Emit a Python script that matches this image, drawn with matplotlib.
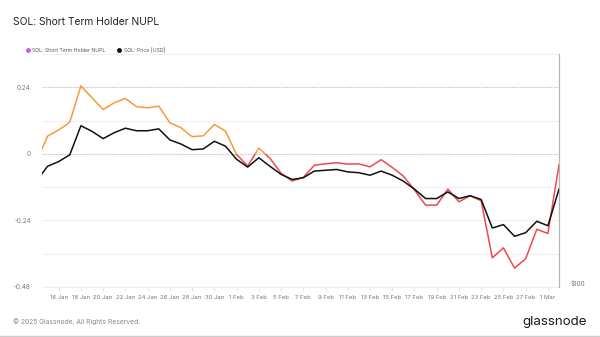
import numpy as np
import pandas as pd
import matplotlib
matplotlib.use("Agg")
import matplotlib.pyplot as plt
import matplotlib.dates as mdates
from matplotlib.patches import Rectangle
from matplotlib.ticker import FixedLocator, NullLocator

plt.rcParams['font.family'] = ['Inter', 'DejaVu Sans']

# daily values, 14 Jan - 2 Mar 2025
dates = pd.date_range("2025-01-14", "2025-03-02", freq="D")

sth_nupl = [
    -0.028, 0.064, 0.086, 0.114, 0.245, 0.202, 0.160, 0.184, 0.200, 0.170,
    0.166, 0.172, 0.112, 0.094, 0.062, 0.065, 0.106, 0.082, -0.002, -0.044,
    0.021, -0.016, -0.070, -0.098, -0.085, -0.041, -0.036, -0.032, -0.037, -0.036,
    -0.047, -0.021, -0.049, -0.080, -0.130, -0.185, -0.185, -0.127, -0.173, -0.151,
    -0.169, -0.375, -0.339, -0.412, -0.378, -0.272, -0.287, -0.039,
]

price = [
    190, 208, 214, 223, 266, 257, 246, 255, 262, 258,
    258, 261, 244, 238, 230, 231, 242, 235, 217, 207,
    219, 208, 198, 192, 194, 202, 203, 204, 201, 200,
    197, 202, 197, 190, 181, 171, 171, 178, 171, 174,
    170, 143, 146, 136, 139, 149, 145, 181,
]

nupl_ticks = [-0.48, -0.24, 0, 0.24]
nupl_ticklabels = ["-0.48", "-0.24", "0", "0.24"]

ORANGE = "#f8993a"
RED = "#ef4a4a"
GREY = "#777777"

fig = plt.figure(figsize=(6, 3.37), dpi=100)
fig.patch.set_facecolor("white")

ax = fig.add_axes([0.07, 0.1484, 0.8617, 0.6914])
x = mdates.date2num(dates)
x0 = mdates.date2num(pd.Timestamp("2025-01-14 12:00"))
x1 = mdates.date2num(pd.Timestamp("2025-03-02"))
ax.set_xlim(x0, x1)
ax.set_ylim(-0.48, 0.36)

# light grid every 0.12, dotted reference lines at 0.24 and 0
for g in np.arange(-0.48, 0.361, 0.12):
    ax.axhline(g, color="#f0f0f0", lw=0.8, zorder=0)
for g in [0.24, 0]:
    ax.axhline(g, color="#c4c4c4", lw=0.8, ls=(0, (1, 1.5)), zorder=1)

# NUPL line, orange above zero and red below
top = ax.plot(x, sth_nupl, color=ORANGE, lw=1.1, zorder=3)[0]
bot = ax.plot(x, sth_nupl, color=RED, lw=1.1, zorder=3)[0]
top.set_clip_path(Rectangle((x0, 0), x1 - x0, 1, transform=ax.transData))
bot.set_clip_path(Rectangle((x0, -1), x1 - x0, 1, transform=ax.transData))

ax.yaxis.set_major_locator(FixedLocator(nupl_ticks))
ax.set_yticklabels(nupl_ticklabels)
ax.tick_params(axis="y", length=0, labelsize=4.6, labelcolor=GREY, pad=8)

ticks = pd.date_range("2025-01-16", "2025-03-01", freq="2D")
ax.xaxis.set_major_locator(FixedLocator(mdates.date2num(ticks)))
ax.set_xticklabels([f"{d.day} {d:%b}" for d in ticks])
ax.tick_params(axis="x", length=3, color="#e6e6e6", labelsize=4.3, labelcolor=GREY, pad=3)

for s in ["left", "top", "right"]:
    ax.spines[s].set_visible(False)
ax.spines["bottom"].set_color("#eeeeee")
ax.spines["bottom"].set_linewidth(0.8)

# price on a log right axis
ax2 = ax.twinx()
ax2.set_yscale("log")
ax2.set_ylim(100, 411)
ax2.plot(x, price, color="#111111", lw=1.1, zorder=4)
ax2.yaxis.set_major_locator(FixedLocator([100]))
ax2.yaxis.set_minor_locator(NullLocator())
ax2.set_yticklabels(["$100"], va="bottom")
ax2.tick_params(axis="y", length=0, labelsize=4.6, labelcolor=GREY, pad=8)
for s in ["left", "top", "bottom"]:
    ax2.spines[s].set_visible(False)
ax2.spines["right"].set_color("#b5b5b5")
ax2.spines["right"].set_linewidth(0.9)

# title and legend
fig.text(0.021, 0.935, "SOL: Short Term Holder NUPL", fontsize=7.4, color="#222222",
         ha="left", va="center")
fig.add_artist(plt.Line2D([0.047], [0.851], marker="o", ms=2.5, color="#c45ef2",
                          transform=fig.transFigure))
fig.text(0.054, 0.851, "SOL: Short Term Holder NUPL", fontsize=3.7, color="#555555",
         ha="left", va="center")
fig.add_artist(plt.Line2D([0.199], [0.851], marker="o", ms=2.5, color="#111111",
                          transform=fig.transFigure))
fig.text(0.206, 0.851, "SOL: Price [USD]", fontsize=3.7, color="#555555",
         ha="left", va="center")

# footer
fig.text(0.021, 0.045, "© 2025 Glassnode. All Rights Reserved.", fontsize=4.8,
         color="#888888", ha="left", va="center")
fig.text(0.978, 0.045, "glassnode", fontsize=9.6, color="#1a1a1a",
         ha="right", va="center")
fig.add_artist(plt.Line2D([0, 1], [0.004, 0.004], color="#cccccc", lw=1,
                          transform=fig.transFigure))

fig.savefig("out.png", dpi=100, facecolor="white")
